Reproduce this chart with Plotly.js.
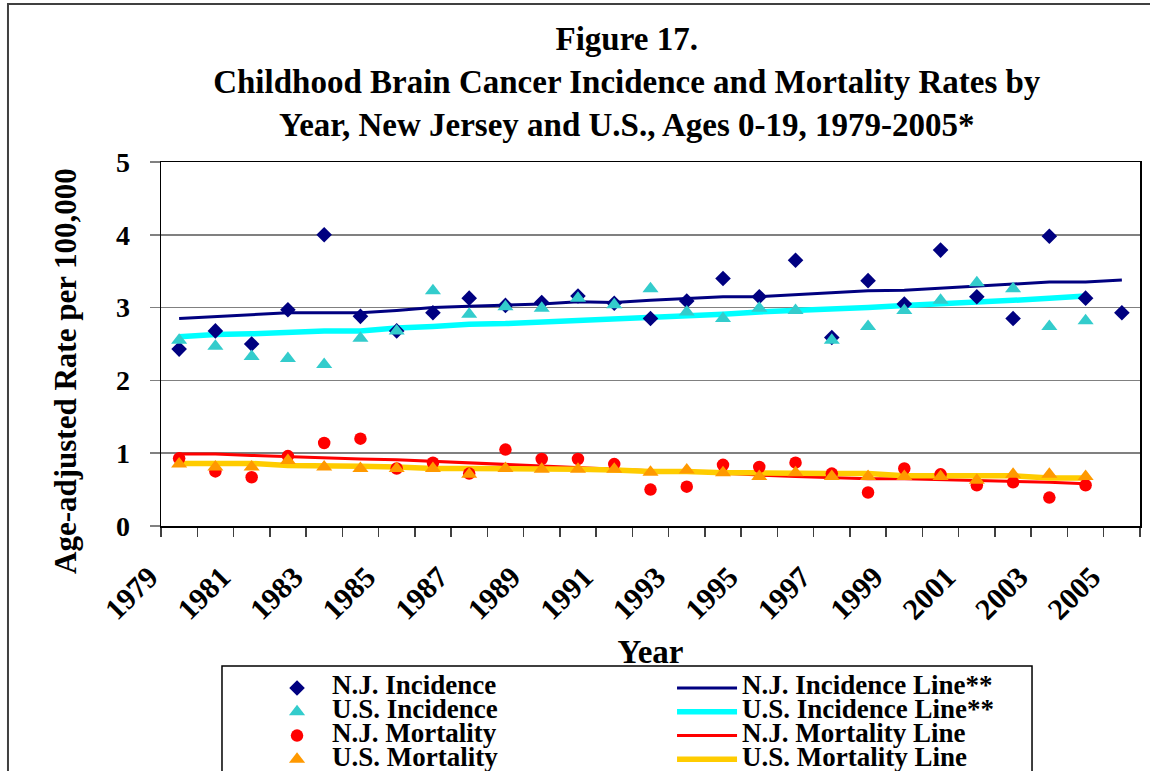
<!DOCTYPE html>
<html>
<head>
<meta charset="utf-8">
<script src="https://cdn.plot.ly/plotly-3.0.1.min.js"></script>
<style>
  body { margin: 0; background: #fff; }
  #chart { width: 1150px; height: 771px; }
</style>
</head>
<body>
<div id="chart"></div>
<script>
// years 1979-2005; the U.S. series and the mortality series stop at 2004
const years = [1979, 1980, 1981, 1982, 1983, 1984, 1985, 1986, 1987, 1988, 1989, 1990, 1991, 1992,
               1993, 1994, 1995, 1996, 1997, 1998, 1999, 2000, 2001, 2002, 2003, 2004, 2005];
const yearsTo2004 = years.slice(0, 26);

const njIncidence = [2.43, 2.68, 2.50, 2.97, 4.00, 2.88, 2.68, 2.93, 3.13, 3.03, 3.07, 3.16, 3.06, 2.85,
                     3.09, 3.40, 3.15, 3.65, 2.59, 3.37, 3.05, 3.79, 3.15, 2.85, 3.98, 3.13, 2.93];
const usIncidence = [2.55, 2.47, 2.33, 2.30, 2.22, 2.58, 2.68, 3.23, 2.91, 3.01, 2.99, 3.13, 3.04, 3.26,
                     2.94, 2.85, 2.99, 2.96, 2.55, 2.74, 2.96, 3.10, 3.34, 3.26, 2.74, 2.82];
const njMortality = [0.93, 0.75, 0.67, 0.96, 1.14, 1.20, 0.79, 0.87, 0.72, 1.05, 0.92, 0.92, 0.85, 0.50,
                     0.54, 0.84, 0.81, 0.87, 0.72, 0.46, 0.79, 0.71, 0.56, 0.60, 0.39, 0.56];
const usMortality = [0.85, 0.81, 0.81, 0.90, 0.81, 0.79, 0.79, 0.79, 0.71, 0.79, 0.78, 0.78, 0.78, 0.74,
                     0.77, 0.73, 0.68, 0.73, 0.68, 0.68, 0.68, 0.68, 0.63, 0.71, 0.71, 0.68];

// fitted trend lines
const njIncidenceLine = [2.85, 2.88, 2.91, 2.93, 2.93, 2.93, 2.96, 3.00, 3.02, 3.03, 3.05, 3.08, 3.07, 3.10,
                         3.13, 3.15, 3.15, 3.18, 3.21, 3.23, 3.24, 3.27, 3.30, 3.32, 3.35, 3.35, 3.38];
const usIncidenceLine = [2.60, 2.63, 2.64, 2.66, 2.68, 2.68, 2.72, 2.74, 2.77, 2.78, 2.80, 2.82, 2.84, 2.87,
                         2.89, 2.91, 2.94, 2.96, 2.97, 3.00, 3.03, 3.05, 3.07, 3.10, 3.13, 3.16];
const njMortalityLine = [0.99, 0.99, 0.97, 0.95, 0.93, 0.92, 0.91, 0.89, 0.87, 0.84, 0.82, 0.80, 0.78, 0.76,
                         0.75, 0.72, 0.70, 0.68, 0.66, 0.65, 0.65, 0.64, 0.63, 0.62, 0.60, 0.58];
const usMortalityLine = [0.86, 0.86, 0.86, 0.83, 0.83, 0.82, 0.81, 0.79, 0.79, 0.79, 0.78, 0.78, 0.77, 0.75,
                         0.75, 0.73, 0.73, 0.72, 0.72, 0.72, 0.69, 0.69, 0.69, 0.69, 0.66, 0.66];

const labelYears = [1979, 1981, 1983, 1985, 1987, 1989, 1991, 1993, 1995, 1997, 1999, 2001, 2003, 2005];

const serif = 'Liberation Serif, Times New Roman, serif';

// legend text is drawn larger than the legend font so the rows stay tight
function legendName(s) {
    return '<span style="font-size:27px">' + s + '</span>';
}

function lineTrace(x, y, name, color, width, rank) {
    return {
        x: x, y: y, type: 'scatter', mode: 'lines', name: legendName(name),
        line: { color: color, width: width },
        legendrank: rank
    };
}

function markerTrace(x, y, name, color, symbol, size, rank) {
    return {
        x: x, y: y, type: 'scatter', mode: 'markers', name: legendName(name),
        marker: { color: color, symbol: symbol, size: size, line: { width: 0 } },
        legendrank: rank
    };
}

const data = [
    lineTrace(years, njIncidenceLine, 'N.J. Incidence Line**', '#000080', 3, 2),
    lineTrace(yearsTo2004, usIncidenceLine, 'U.S. Incidence Line**', '#00FFFF', 5.5, 4),
    lineTrace(yearsTo2004, njMortalityLine, 'N.J. Mortality Line', '#FF0000', 3, 6),
    lineTrace(yearsTo2004, usMortalityLine, 'U.S. Mortality Line', '#FFCC00', 5.5, 8),
    markerTrace(years, njIncidence, 'N.J. Incidence', '#000080', 'diamond', 12, 1),
    markerTrace(yearsTo2004, usIncidence, 'U.S. Incidence', '#33CCCC', 'triangle-up', 14, 3),
    markerTrace(yearsTo2004, njMortality, 'N.J. Mortality', '#FF0000', 'circle', 12.5, 5),
    markerTrace(yearsTo2004, usMortality, 'U.S. Mortality', '#FF9900', 'triangle-up', 14, 7)
];

const layout = {
    width: 1150,
    height: 771,
    margin: { l: 161, r: 10, t: 162, b: 245, autoexpand: false },
    paper_bgcolor: '#fff',
    plot_bgcolor: '#fff',
    font: { family: serif, color: '#000' },
    title: {
        text: '<b>Figure 17.<br>Childhood Brain Cancer Incidence and Mortality Rates by<br>' +
              'Year, New Jersey and U.S., Ages 0-19, 1979-2005*</b>',
        font: { family: serif, size: 33, color: '#000' },
        x: 0.545, xanchor: 'center',
        y: 0.935, yanchor: 'middle'
    },
    xaxis: {
        range: [1978.5, 2005.5],
        tickmode: 'array',
        tickvals: labelYears,
        ticktext: labelYears.map(String),
        tickangle: -45,
        ticks: '',
        ticklabelstandoff: 20,
        ticklabelshift: -30,
        tickfont: { family: serif, size: 30, color: '#000', weight: 'bold' },
        minor: { tickmode: 'linear', tick0: 1978.5, dtick: 1, ticks: 'outside', ticklen: 9,
                 tickwidth: 1.5, tickcolor: '#404040', showgrid: false },
        showgrid: false,
        zeroline: false,
        showline: true, linecolor: '#000', linewidth: 1.5, mirror: true,
        title: { text: '<b>Year</b>', font: { family: serif, size: 33, color: '#000' }, standoff: 15 }
    },
    yaxis: {
        range: [0, 5],
        dtick: 1,
        ticks: 'outside', ticklen: 10, tickwidth: 1.5, tickcolor: '#808080',
        ticklabelstandoff: 14,
        tickfont: { family: serif, size: 28, color: '#000', weight: 'bold' },
        showgrid: true, gridcolor: '#808080', gridwidth: 1.5,
        zeroline: false,
        showline: true, linecolor: '#000', linewidth: 1.5, mirror: true
    },
    annotations: [{
        text: '<b>Age-adjusted Rate per 100,000</b>',
        textangle: -90,
        xref: 'paper', yref: 'paper',
        x: -0.097, y: 0.426, xanchor: 'center', yanchor: 'middle',
        showarrow: false,
        font: { family: serif, size: 31, color: '#000' }
    }],
    shapes: [
        // outer chart border
        { type: 'rect', xref: 'paper', yref: 'paper', x0: -0.1563, x1: 1.06, y0: 1.434, y1: -0.75,
          line: { color: '#404040', width: 2 }, fillcolor: 'rgba(0,0,0,0)' },
        // legend box
        { type: 'rect', xref: 'paper', yref: 'paper', x0: 0.0623, x1: 0.8897, y0: -0.3846, y1: -0.75,
          line: { color: '#000', width: 1.5 }, fillcolor: 'rgba(0,0,0,0)' }
    ],
    showlegend: true,
    legend: {
        orientation: 'h',
        x: 0.1032, xanchor: 'left',
        y: -0.3985, yanchor: 'top',
        entrywidth: 335, entrywidthmode: 'pixels',
        itemwidth: 60,
        bgcolor: 'rgba(0,0,0,0)',
        borderwidth: 0,
        font: { family: serif, size: 16, color: '#000', weight: 'bold' },
        tracegroupgap: 0
    }
};

Plotly.newPlot('chart', data, layout, { displayModeBar: false, staticPlot: true });
</script>
</body>
</html>
